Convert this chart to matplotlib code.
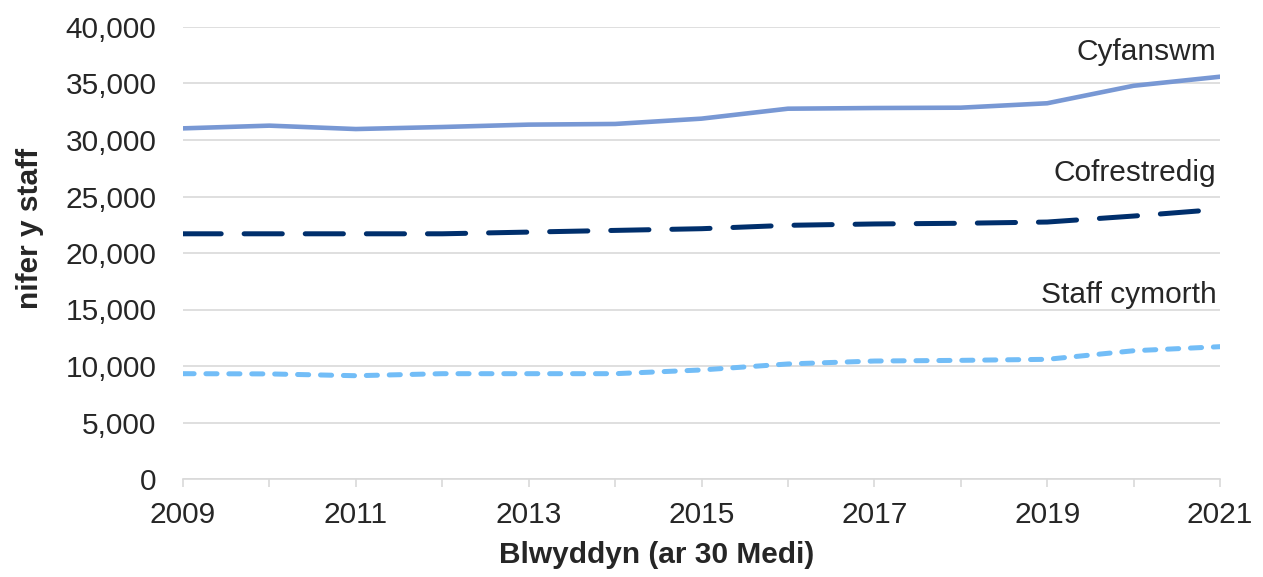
import matplotlib
matplotlib.use("Agg")
import matplotlib.pyplot as plt
from matplotlib.ticker import FuncFormatter

# data (staff numbers at 30 September)
years = [2009, 2010, 2011, 2012, 2013, 2014, 2015, 2016, 2017, 2018, 2019, 2020, 2021]
cyfanswm = [31030, 31270, 30970, 31150, 31360, 31420, 31890, 32770, 32830, 32860, 33250, 34800, 35600]
cofrestredig = [21700, 21700, 21700, 21700, 21850, 22000, 22150, 22450, 22570, 22630, 22740, 23270, 23870]
staff_cymorth = [9320, 9300, 9140, 9320, 9320, 9320, 9650, 10180, 10440, 10500, 10590, 11350, 11710]

series_names = ["Cyfanswm", "Cofrestredig", "Staff cymorth"]
y_ticks = [0, 5000, 10000, 15000, 20000, 25000, 30000, 35000, 40000]

plt.rcParams["font.family"] = ["Liberation Sans", "DejaVu Sans"]
plt.rcParams["lines.scale_dashes"] = False

W, H = 1263, 577
fig = plt.figure(figsize=(W / 100, H / 100), dpi=100)
ax = fig.add_axes([183 / W, 1 - 479 / H, (1220 - 183) / W, (479 - 27) / H])

grid_col = "#d9d9d9"
ax.plot(years, cyfanswm, color="#7898d4", lw=3.3, solid_capstyle="round", zorder=3)
ax.plot(years, cofrestredig, color="#002f6c", lw=3.6, dash_capstyle="round",
        dashes=(27.5, 16.5), zorder=3)
ax.plot(years, staff_cymorth, color="#72bdf7", lw=3.6, dash_capstyle="round",
        dashes=(8, 8.5), zorder=3)

ax.set_xlim(2009, 2021)
ax.set_ylim(0, 40000)
ax.set_yticks(y_ticks)
ax.yaxis.set_major_formatter(FuncFormatter(lambda v, p: f"{int(v):,}"))
ax.set_xticks(years)
ax.set_xticklabels([str(y) if (y - 2009) % 2 == 0 else "" for y in years])

ax.grid(axis="y", color=grid_col, lw=1.2, zorder=0)
for s in ["top", "right", "left"]:
    ax.spines[s].set_visible(False)
ax.spines["bottom"].set_color(grid_col)
ax.spines["bottom"].set_linewidth(1.2)
ax.tick_params(axis="y", length=0, pad=19, labelsize=21.5, labelcolor="#262626")
ax.tick_params(axis="x", length=6, width=1.2, color=grid_col, pad=10,
               labelsize=21.5, labelcolor="#262626")

# series labels at the right edge
label_y = {"Cyfanswm": 37800, "Cofrestredig": 27100, "Staff cymorth": 16300}
for name in series_names:
    ax.text(2020.96, label_y[name], name, ha="right", va="center",
            fontsize=21.5, color="#262626")

fig.text(30 / W, 1 - 228 / H, "nifer y staff", rotation=90, ha="center", va="center",
         fontsize=21.5, fontweight="bold", color="#262626")
fig.text(657 / W, 1 - 555 / H, "Blwyddyn (ar 30 Medi)", ha="center", va="center",
         fontsize=21.5, fontweight="bold", color="#262626")

fig.savefig("out.png", dpi=100)
